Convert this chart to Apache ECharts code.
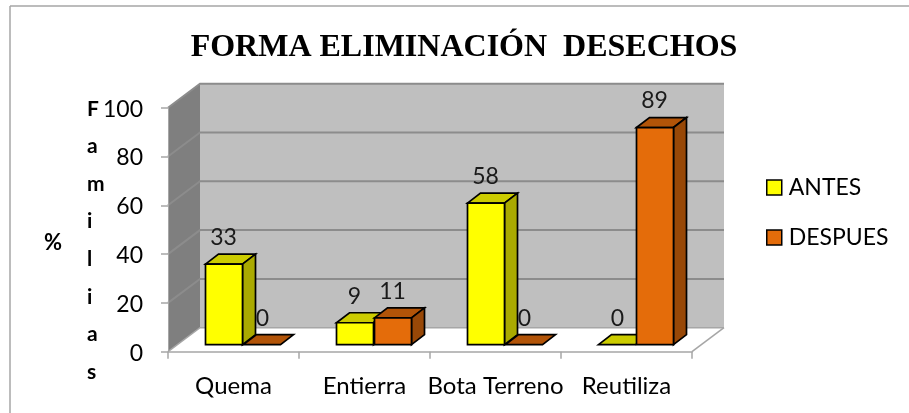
<!DOCTYPE html>
<html><head><meta charset="utf-8">
<style>html,body{margin:0;background:#fff}#c{width:909px;height:413px}</style>
<script src="https://cdn.jsdelivr.net/npm/echarts@6/dist/echarts.min.js"></script>
</head><body><div id="c"></div>
<script>
const categories = ['Quema','Entierra','Bota Terreno','Reutiliza'];
const antes = [33,9,58,0];
const despues = [0,11,0,89];
const seriesNames = ['ANTES','DESPUES'];
const yTicks = [0,20,40,60,80,100];
const chartTitle = 'FORMA ELIMINACIÓN  DESECHOS';

const DEPTH = {x:32,y:-24};
const BAR = {x:13,y:-10,inX:9,inY:-7,w:38};
const colors = {
  ANTES:{front:'#ffff00',top:'#cccc00',side:'#aaaa00'},
  DESPUES:{front:'#e46c0a',top:'#b25408',side:'#984807'}
};
function poly(points,fill,stroke,lw){return {type:'polygon',shape:{points},style:{fill,stroke:stroke||null,lineWidth:lw||0}};}

function wallsItem(params,api){
  const cs=params.coordSys, l=cs.x, r=cs.x+cs.width, b=cs.y+cs.height, t=cs.y, d=DEPTH;
  const kids=[
    poly([[l,t],[l+d.x,t+d.y],[l+d.x,b+d.y],[l,b]],'#7f7f7f'),
    poly([[l+d.x,t+d.y],[r+d.x,t+d.y],[r+d.x,b+d.y],[l+d.x,b+d.y]],'#bfbfbf'),
    poly([[l,b],[l+d.x,b+d.y],[r+d.x,b+d.y],[r,b]],'#ffffff')
  ];
  yTicks.forEach(v=>{
    const y=api.coord([0,v])[1];
    kids.push({type:'polyline',shape:{points:[[l,y],[l+d.x,y+d.y],[r+d.x,y+d.y]]},
      style:{fill:null,stroke:v===0?'#a6a6a6':'#8c8c8c',lineWidth:v===0?1.5:2},z2:1});
  });
  kids.push({type:'polyline',shape:{points:[[r,b],[r+d.x,b+d.y]]},style:{fill:null,stroke:'#a6a6a6',lineWidth:1.5}});
  return {type:'group',children:kids};
}

function barItem(name,idx){
  return function(params,api){
    const cat=api.value(0), v=api.value(1);
    const c=colors[name];
    const p0=api.coord([cat,0]), p1=api.coord([cat,v]);
    const cx=p0[0]+BAR.inX;
    const x0=cx+(idx===0?-BAR.w:0)+1, x1=x0+BAR.w-1;
    const yb=p0[1]+BAR.inY, yt=p1[1]+BAR.inY;
    const dx=BAR.x, dy=BAR.y, s='#000', lw=1.7;
    const kids=[];
    kids.push(poly([[x0,yt],[x0+dx,yt+dy],[x1+dx,yt+dy],[x1,yt]],c.top,s,lw));
    if(v>0){
      kids.push(poly([[x1,yb],[x1+dx,yb+dy],[x1+dx,yt+dy],[x1,yt]],c.side,s,lw));
      kids.push({type:'rect',shape:{x:x0,y:yt,width:x1-x0,height:yb-yt},style:{fill:c.front,stroke:s,lineWidth:lw}});
    }
    kids.push({type:'text',style:{text:String(v),x:(x0+x1)/2+(v>0?-0.5:0.5),y:yt+dy-5,
      fill:'#1a1a1a',font:'23px Lato, "Noto Sans", sans-serif',textAlign:'center',textVerticalAlign:'bottom'},z2:5});
    return {type:'group',children:kids};
  };
}

const option={
  animation:false,
  backgroundColor:'#ffffff',
  title:{text:chartTitle,left:459,top:27,textAlign:'center',
    textStyle:{fontFamily:'"Liberation Serif"',fontWeight:'bold',fontSize:32,color:'#000'}},
  legend:{left:761,top:171,orient:'vertical',itemWidth:15,itemHeight:15,itemGap:27,
    data:seriesNames.map(n=>({name:n,icon:'rect',itemStyle:{color:colors[n].front,borderColor:'#000',borderWidth:1.5}})),
    textStyle:{fontFamily:'Lato',fontSize:23,color:'#000',padding:[0,0,0,2]}},
  grid:{left:168,right:909-692,top:107.7,bottom:413-351.7,containLabel:false},
  xAxis:{type:'category',data:categories,
    axisLine:{lineStyle:{color:'#a6a6a6',width:1.5}},
    axisTick:{show:true,length:7,lineStyle:{color:'#a6a6a6',width:1.5},alignWithLabel:false},
    axisLabel:{color:'#000',fontFamily:'Lato',fontSize:24,margin:23,interval:0},z:3},
  yAxis:{type:'value',min:0,max:100,interval:20,
    splitLine:{show:false},
    axisLine:{show:true,lineStyle:{color:'#a6a6a6',width:1}},
    axisTick:{show:true,length:7,lineStyle:{color:'#a6a6a6',width:1.5}},
    axisLabel:{color:'#000',fontFamily:'Lato',fontSize:23,margin:25,verticalAlign:'top',lineHeight:3},z:3},
  graphic:[
    {type:'line',shape:{x1:10,y1:6,x2:909,y2:6},style:{stroke:'#a6a6a6',lineWidth:1.5},z:-1},
    {type:'line',shape:{x1:10,y1:6,x2:10,y2:413},style:{stroke:'#a6a6a6',lineWidth:1.5},z:-1},
    {type:'text',left:44,top:232,style:{text:'%',font:'bold 22px Lato',fill:'#000'}},
    {type:'text',left:87,top:90,style:{text:'F\na\nm\ni\nl\ni\na\ns',font:'bold 21px Lato',fill:'#000',lineHeight:37.6,align:'center',width:24}}
  ],
  series:[
    {type:'custom',name:'walls',renderItem:wallsItem,data:[[0,0]],silent:true,z:1,clip:false},
    {type:'custom',name:'ANTES',renderItem:barItem('ANTES',0),data:antes.map((v,i)=>[i,v]),z:2,clip:false,encode:{x:0,y:1}},
    {type:'custom',name:'DESPUES',renderItem:barItem('DESPUES',1),data:despues.map((v,i)=>[i,v]),z:2,clip:false,encode:{x:0,y:1}}
  ]
};
const chart=echarts.init(document.getElementById('c'));
chart.setOption(option);
</script></body></html>
